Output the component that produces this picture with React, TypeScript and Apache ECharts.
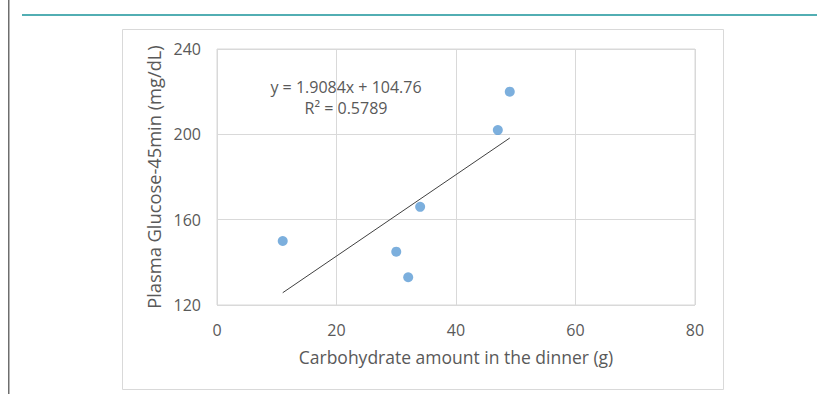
import React, { useEffect, useRef } from "react";
import * as echarts from "echarts";

const carbs = [11, 30, 32, 34, 47, 49];
const glucose = [150, 145, 133, 166, 202, 220];
const slope = 1.9084;
const intercept = 104.76;
const rSquared = "0.5789";
const xTicks = { min: 0, max: 80, interval: 20 };
const yTicks = { min: 120, max: 240, interval: 40 };
const xTitle = "Carbohydrate amount in the dinner (g)";
const yTitle = "Plasma Glucose-45min (mg/dL)";

const FONT = "Open Sans";
const TXT = "#595959";
const GRID = "#d9d9d9";

export default function App() {
  const ref = useRef<HTMLDivElement>(null);
  useEffect(() => {
    if (!ref.current) return;
    const chart = echarts.init(ref.current, undefined, { renderer: "svg" });
    const points = carbs.map((x, i) => [x, glucose[i]]);
    const xMin = Math.min(...carbs);
    const xMax = Math.max(...carbs);
    const trend = [
      [xMin, slope * xMin + intercept],
      [xMax, slope * xMax + intercept],
    ];
    chart.setOption({
      animation: false,
      backgroundColor: "#ffffff",
      textStyle: { fontFamily: FONT },
      graphic: [
        { type: "rect", z: -10, shape: { x: 122.5, y: 29.5, width: 601, height: 360 }, style: { fill: "#fff", stroke: GRID, lineWidth: 1 } },
        { type: "rect", shape: { x: 22, y: 14, width: 795, height: 2 }, style: { fill: "#52aeb3" } },
        { type: "rect", shape: { x: 8, y: 0, width: 1.5, height: 394 }, style: { fill: "#6e6e6e" } },
        {
          type: "text",
          x: 346,
          y: 97.5,
          style: {
            text: `y = ${slope}x + ${intercept}\nR² = ${rSquared}`,
            fill: TXT,
            font: `16px "${FONT}"`,
            align: "center",
            verticalAlign: "middle",
            lineHeight: 21,
          },
        },
      ],
      grid: { left: 217, top: 49, width: 478, height: 256, show: true, borderColor: GRID, borderWidth: 1 },
      xAxis: {
        type: "value",
        ...xTicks,
        name: xTitle,
        nameLocation: "middle",
        nameGap: 43,
        nameTextStyle: { color: TXT, fontSize: 17.5, fontFamily: FONT },
        axisLine: { show: false },
        axisTick: { show: false },
        splitLine: { lineStyle: { color: GRID, width: 1 } },
        axisLabel: { color: TXT, fontSize: 16, margin: 17, fontFamily: FONT },
      },
      yAxis: {
        type: "value",
        ...yTicks,
        name: yTitle,
        nameLocation: "middle",
        nameGap: 49,
        nameTextStyle: { color: TXT, fontSize: 18.3, fontFamily: FONT },
        axisLine: { show: false },
        axisTick: { show: false },
        splitLine: { lineStyle: { color: GRID, width: 1 } },
        axisLabel: { color: TXT, fontSize: 16, margin: 16, fontFamily: FONT },
      },
      series: [
        {
          type: "line",
          data: trend,
          symbol: "none",
          lineStyle: { color: "#404040", width: 1 },
          silent: true,
        },
        {
          type: "scatter",
          data: points,
          symbolSize: 10,
          itemStyle: { color: "#5b9bd5" },
        },
      ],
    });
    return () => chart.dispose();
  }, []);
  return (
    <div
      ref={ref}
      style={{ position: "fixed", left: 0, top: 0, width: 817, height: 394, background: "#fff" }}
    />
  );
}
